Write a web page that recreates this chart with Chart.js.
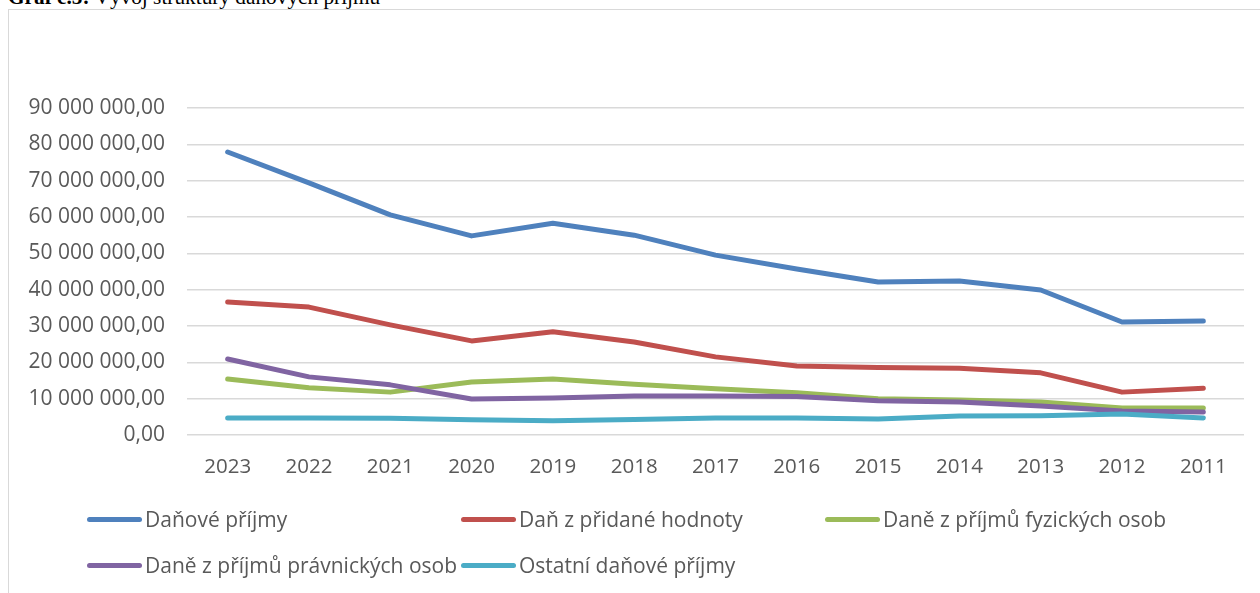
<!DOCTYPE html>
<html>
<head>
<meta charset="utf-8">
<script src="https://cdn.jsdelivr.net/npm/chart.js@4"></script>
<style>
  html, body { margin: 0; padding: 0; background: #fff; }
  body { width: 1260px; height: 593px; position: relative; overflow: hidden; }
  #title { position: absolute; left: 8px; top: -13px; font-family: "Liberation Serif", serif; font-size: 21.3px; line-height: 21px; color: #000; white-space: nowrap; }
  #frame { position: absolute; left: 8px; top: 9px; width: 1300px; height: 640px; border: 1.5px solid #d9d9d9; box-sizing: border-box; }
  #wrap { position: absolute; left: 0; top: 0; width: 1260px; height: 593px; }
  .lg { position: absolute; display: flex; align-items: center; font-family: "Open Sans", sans-serif; font-size: 21px; color: #595959; white-space: nowrap; }
  .lg .sw { width: 55px; height: 5px; border-radius: 3px; margin-right: 3px; }
</style>
</head>
<body>
<div id="title"><b>Graf č.5:</b> Vývoj struktury daňových příjmů</div>
<div id="frame"></div>
<div id="wrap"><canvas id="c" width="1260" height="593"></canvas></div>
<div id="legend"></div>
<script>
const categories = ["2023","2022","2021","2020","2019","2018","2017","2016","2015","2014","2013","2012","2011"];
const seriesNames = ["Daňové příjmy","Daň z přidané hodnoty","Daně z příjmů fyzických osob","Daně z příjmů právnických osob","Ostatní daňové příjmy"];
const danovePrijmy = [77900000,69400000,60600000,54800000,58300000,55000000,49500000,45700000,42100000,42400000,39900000,31100000,31400000];
const dph          = [36600000,35200000,30300000,25900000,28400000,25600000,21500000,19000000,18600000,18400000,17100000,11800000,12900000];
const dpfo         = [15400000,13000000,11800000,14600000,15400000,14000000,12700000,11600000,10000000,9600000,9100000,7400000,7400000];
const dppo         = [20900000,16000000,13800000,9900000,10200000,10700000,10700000,10600000,9400000,9100000,8000000,6600000,6300000];
const ostatni      = [4700000,4700000,4600000,4200000,3900000,4300000,4700000,4700000,4400000,5200000,5300000,5800000,4700000];
const yTicks = [0,10000000,20000000,30000000,40000000,50000000,60000000,70000000,80000000,90000000];
const colors = ["#4f81bd","#c0504d","#9bbb59","#8064a2","#4bacc6"];
const values = [danovePrijmy, dph, dpfo, dppo, ostatni];

function fmt(v) {
  const s = Math.round(v).toString().replace(/\B(?=(\d{3})+(?!\d))/g, " ");
  return s + ",00";
}

const YFONT = { family: "'Open Sans', sans-serif", size: 21 };
const XFONT = { family: "'Open Sans', sans-serif", size: 20.5 };

new Chart(document.getElementById("c"), {
  type: "line",
  data: {
    labels: categories,
    datasets: values.map((d, i) => ({
      label: seriesNames[i],
      data: d,
      borderColor: colors[i],
      backgroundColor: colors[i],
      borderWidth: 5,
      borderCapStyle: "round",
      borderJoinStyle: "round",
      pointRadius: 0,
      pointHoverRadius: 0,
      tension: 0,
      fill: false,
      order: 5 - i
    }))
  },
  options: {
    responsive: false,
    animation: false,
    devicePixelRatio: 1,
    layout: { padding: { top: 108, right: 16, bottom: 0, left: 0 } },
    plugins: { legend: { display: false }, tooltip: { enabled: false }, title: { display: false } },
    scales: {
      x: {
        type: "category",
        offset: true,
        grid: { display: false, drawTicks: false },
        border: { display: false },
        ticks: { color: "#595959", font: XFONT, padding: 20, maxRotation: 0, autoSkip: false },
        afterFit: (s) => { s.height = 593 - 435; }
      },
      y: {
        min: 0, max: 90000000,
        afterBuildTicks: (s) => { s.ticks = yTicks.map(v => ({ value: v })); },
        grid: { color: "#d9d9d9", lineWidth: 1.5, drawTicks: false },
        border: { display: false },
        ticks: { color: "#595959", font: YFONT, padding: 22, callback: (v) => fmt(v) },
        afterFit: (s) => { s.width = 187; }
      }
    }
  }
});

const legendPos = [[87,519],[461,519],[825,519],[87,565],[461,565]];
const lg = document.getElementById("legend");
seriesNames.forEach((n, i) => {
  const d = document.createElement("div");
  d.className = "lg";
  d.style.left = legendPos[i][0] + "px";
  d.style.top = (legendPos[i][1] - 15) + "px";
  d.style.height = "30px";
  const sw = document.createElement("span");
  sw.className = "sw";
  sw.style.background = colors[i];
  const t = document.createElement("span");
  t.textContent = n;
  d.appendChild(sw); d.appendChild(t);
  lg.appendChild(d);
});
</script>
</body>
</html>
